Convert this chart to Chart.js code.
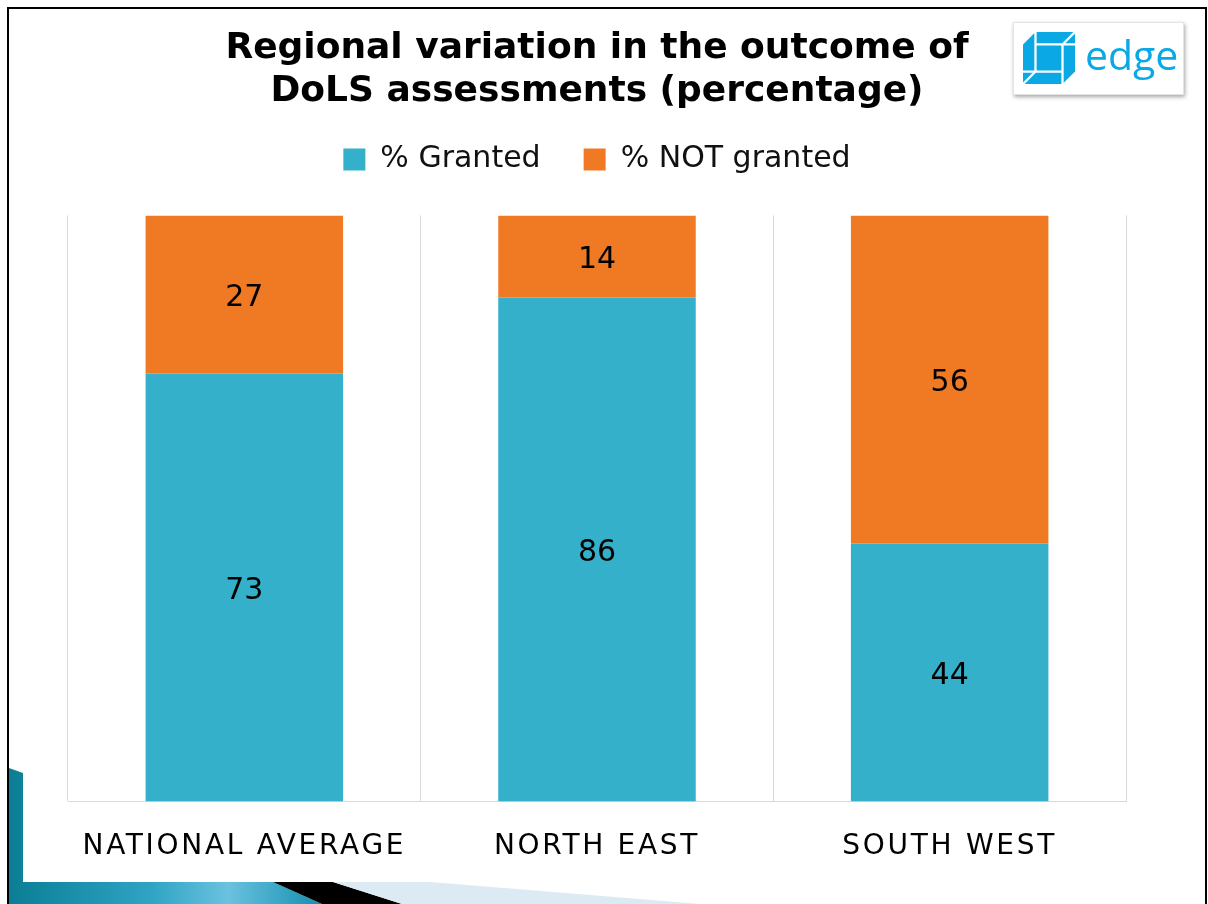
<!DOCTYPE html>
<html>
<head>
<meta charset="utf-8">
<script src="https://cdn.jsdelivr.net/npm/chart.js@4.4.1/dist/chart.umd.min.js"></script>
<style>
  html, body { margin: 0; padding: 0; background: #fff; width: 1208px; height: 904px; overflow: hidden; }
  #frame { position: absolute; left: 7px; top: 7px; width: 1196px; height: 1000px; border: 2px solid #000; box-sizing: content-box; }
  #deco { position: absolute; left: 0; top: 0; }
  #wrap { position: absolute; left: 0; top: 0; width: 1208px; height: 904px; }
  #logo { position: absolute; left: 1013px; top: 22px; width: 171px; height: 73px; background: #fff;
          box-shadow: 1px 2px 4px rgba(0,0,0,0.35); border: 1px solid #e4e4e4; box-sizing: border-box; }
  #logo svg { position: absolute; left: 9px; top: 9px; }
  #logo span { position: absolute; left: 71px; top: 5px; font-family: "Open Sans", sans-serif; font-size: 41px; color: #0aa9e6; line-height: 52px; }
</style>
</head>
<body>
<div id="frame"></div>
<svg id="deco" width="1208" height="904">
  <defs>
    <linearGradient id="tg" x1="0" y1="0" x2="1" y2="0">
      <stop offset="0" stop-color="#0b7e95"/>
      <stop offset="0.45" stop-color="#2ea3c4"/>
      <stop offset="0.7" stop-color="#6ac2de"/>
      <stop offset="1" stop-color="#148fb0"/>
    </linearGradient>
  </defs>
  <polygon points="9,768 23,773 23,882 273,882 322,904 9,904" fill="url(#tg)"/>
  <polygon points="273,882 333,882 402,904 322,904" fill="#000"/>
  <polygon points="333,882 430,882 700,904 402,904" fill="#dcebf3"/>
</svg>
<div id="wrap"><canvas id="c" width="1208" height="904"></canvas></div>
<div id="logo">
  <svg width="52" height="52" viewBox="0 0 50 50">
    <polygon points="12,0 50,0 50,38 38,50 0,50 0,12" fill="#0aa9e6"/>
    <g stroke="#fff" stroke-width="2.2" fill="none">
      <line x1="0" y1="38" x2="38" y2="38"/>
      <line x1="38" y1="12" x2="38" y2="50"/>
      <line x1="12" y1="0" x2="12" y2="38"/>
      <line x1="12" y1="12" x2="50" y2="12"/>
      <line x1="38" y1="12" x2="50" y2="0"/>
      <line x1="0" y1="50" x2="12" y2="38"/>
    </g>
  </svg>
  <span>edge</span>
</div>
<script>
const categories = ["NATIONAL AVERAGE", "NORTH EAST", "SOUTH WEST"];
const granted = [73, 86, 44];
const notGranted = [27, 14, 56];
const seriesNames = ["% Granted", "% NOT granted"];
const titleLines = ["Regional variation in the outcome of", "DoLS assessments (percentage)"];

const TEAL = "#35b0ca";
const ORANGE = "#f07a24";

const layoutPlugin = {
  id: 'legendGap',
  beforeLayout(chart) {
    const lg = chart.legend;
    if (lg && !lg._patched) {
      const orig = lg.fit;
      lg.fit = function () { orig.call(this); this.height += 31; };
      lg._patched = true;
    }
  },
  afterDatasetsDraw(chart) {
    const ctx = chart.ctx;
    ctx.save();
    ctx.font = '30px "DejaVu Sans"';
    ctx.fillStyle = '#000';
    ctx.textAlign = 'center';
    ctx.textBaseline = 'middle';
    chart.data.datasets.forEach((ds, di) => {
      const meta = chart.getDatasetMeta(di);
      meta.data.forEach((bar, i) => {
        const p = bar.getProps(['x', 'y', 'base'], true);
        ctx.fillText(String(ds.data[i]), p.x, (p.y + p.base) / 2 + 4);
      });
    });
    ctx.restore();
    ctx.letterSpacing = '2.7px';
  },
  afterDraw(chart) {
    chart.ctx.letterSpacing = '0px';
  }
};

new Chart(document.getElementById('c'), {
  type: 'bar',
  data: {
    labels: categories,
    datasets: [
      { label: seriesNames[0], data: granted, backgroundColor: TEAL, borderWidth: 0 },
      { label: seriesNames[1], data: notGranted, backgroundColor: ORANGE, borderWidth: 0 }
    ]
  },
  options: {
    responsive: false,
    animation: false,
    devicePixelRatio: 1,
    layout: { padding: { left: 68, right: 82, top: 27, bottom: 11 } },
    datasets: { bar: { categoryPercentage: 1, barPercentage: 0.56 } },
    plugins: {
      title: {
        display: true,
        text: titleLines,
        color: '#000',
        font: { family: '"DejaVu Sans"', size: 36, weight: 'bold', lineHeight: 1.2 },
        padding: { top: 0, bottom: -12 }
      },
      legend: {
        display: true,
        position: 'top',
        labels: {
          color: '#111',
          font: { family: '"DejaVu Sans"', size: 30 },
          boxWidth: 22, boxHeight: 22,
          padding: 43
        }
      },
      tooltip: { enabled: false }
    },
    scales: {
      x: {
        stacked: true,
        grid: { display: true, offset: true, color: '#d9d9d9', lineWidth: 1, drawTicks: false },
        border: { display: true, color: '#d9d9d9', width: 1 },
        ticks: { color: '#000', font: { family: '"DejaVu Sans"', size: 28 }, padding: 29, z: 1 }
      },
      y: {
        stacked: true,
        display: false,
        min: 0,
        max: 100
      }
    }
  },
  plugins: [layoutPlugin]
});
</script>
</body>
</html>
